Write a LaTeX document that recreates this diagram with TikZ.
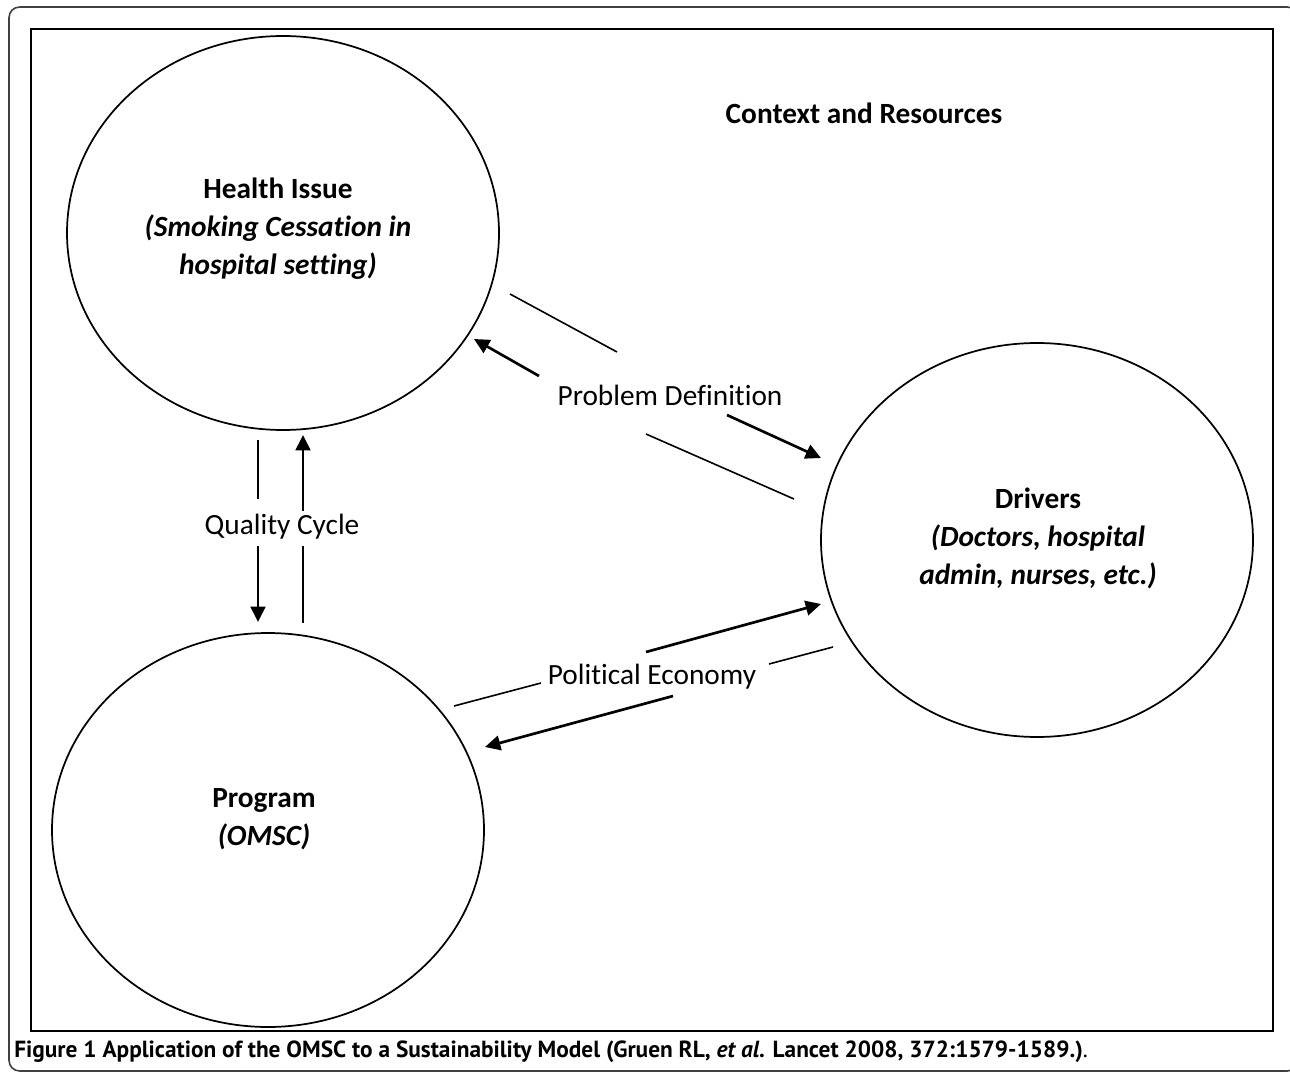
\documentclass[tikz,border=0pt]{standalone}
\usepackage{fontspec}
\setmainfont{Carlito}[Ligatures={NoCommon}]
\newfontfamily\capfont{PT Sans}
\usetikzlibrary{arrows.meta,shapes.geometric}

\begin{document}
\begin{tikzpicture}[x=0.75pt,y=-0.75pt,
    ell/.style={draw,line width=1.3pt,ellipse,minimum width=324pt,minimum height=295.5pt,inner sep=0pt},
    txt/.style={align=center,font=\fontsize{22}{28.5}\selectfont},
    plain/.style={line width=1.2pt},
    arr/.style={line width=2pt,-{Triangle[length=11.5pt,width=11pt]}}]
    \useasboundingbox (0,0) rectangle (1290,1074);
    \clip (0,0) rectangle (1290,1074);
    \draw[black!75,line width=1.2pt,rounded corners=8pt] (9,7) rectangle (1298,1071);
    \draw[line width=1.8pt] (31,29) rectangle (1273,1031);
    \node[ell] (health) at (283,233) {};
    \node[ell] (drivers) at (1037,540) {};
    \node[ell] (program) at (268,830) {};
    \node[txt] (context) at (864,113) {\textbf{Context and Resources}};
    \node[txt] (healthtxt) at (278,229) {\textbf{Health Issue}\\\textbf{\textit{(Smoking Cessation in}}\\\textbf{\textit{hospital setting)}}};
    \node[txt] (driverstxt) at (1038,538) {\textbf{Drivers}\\\textbf{\textit{(Doctors, hospital}}\\\textbf{\textit{admin, nurses, etc.)}}};
    \node[txt] (programtxt) at (264,819) {\textbf{Program}\\\textbf{\textit{(OMSC)}}};
    \node[txt] (quality) at (282,527) {Quality Cycle};
    \node[txt] (problem) at (670,395) {Problem Definition};
    \node[txt] (political) at (652,677) {Political Economy};
    \node[anchor=base west,inner sep=0pt,font=\capfont\fontsize{17.5}{21}\selectfont] (caption) at (14,1057)
        {\textbf{Figure 1 Application of the OMSC to a Sustainability Model (Gruen RL, \textit{et al}. Lancet 2008, 372:1579-1589.)}.};
    \coordinate (QA) at (258,440);
    \coordinate (QB) at (258,499);
    \coordinate (QC) at (258,546);
    \coordinate (QD) at (258,622);
    \coordinate (QE) at (303,511);
    \coordinate (QF) at (303,435);
    \coordinate (QG) at (303,546);
    \coordinate (QH) at (303,623);
    \coordinate (PA) at (510,294);
    \coordinate (PB) at (617,352);
    \coordinate (PC) at (539,376);
    \coordinate (PD) at (474,339);
    \coordinate (PE) at (727,415);
    \coordinate (PF) at (821,458);
    \coordinate (PG) at (646,434);
    \coordinate (PH) at (794,499);
    \coordinate (EA) at (646,652);
    \coordinate (EB) at (821,604);
    \coordinate (EC) at (454,706);
    \coordinate (ED) at (541,683);
    \coordinate (EE) at (769,664);
    \coordinate (EF) at (833,647);
    \coordinate (EG) at (673,696);
    \coordinate (EH) at (485,747);
    \draw[plain] (QA) -- (QB);
    \draw[arr] (QC) -- (QD);
    \draw[arr] (QE) -- (QF);
    \draw[plain] (QG) -- (QH);
    \draw[plain] (PA) -- (PB);
    \draw[arr] (PC) -- (PD);
    \draw[arr] (PE) -- (PF);
    \draw[plain] (PG) -- (PH);
    \draw[arr] (EA) -- (EB);
    \draw[plain] (EC) -- (ED);
    \draw[plain] (EE) -- (EF);
    \draw[arr] (EG) -- (EH);
\end{tikzpicture}
\end{document}
